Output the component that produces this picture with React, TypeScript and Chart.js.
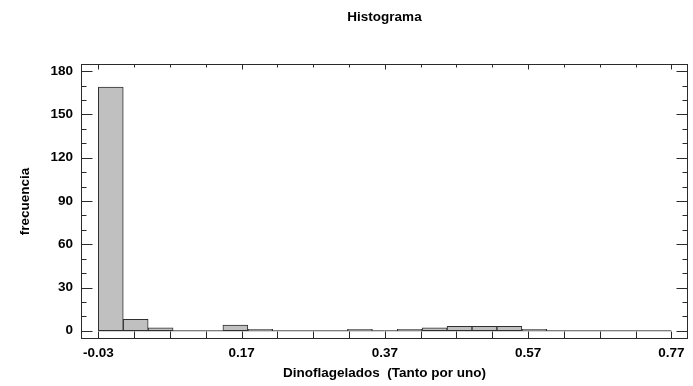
import React, { useEffect, useRef } from "react";
import { Chart, registerables } from "chart.js";
Chart.register(...registerables);

const chartTitle = "Histograma";
const xAxisTitle = "Dinoflagelados  (Tanto por uno)";
const yAxisTitle = "frecuencia";
const binStart = -0.03;
const binEnd = 0.77;
const counts = [169, 8, 2, 0, 0, 4, 1, 0, 0, 0, 1, 0, 1, 2, 3, 3, 3, 1, 0, 0, 0, 0, 0];
const xTickValues = [-0.03, 0.17, 0.37, 0.57, 0.77];
const xTickLabels = ["-0.03", "0.17", "0.37", "0.57", "0.77"];
const yTickValues = [0, 30, 60, 90, 120, 150, 180];
const xMinorStep = 0.05;
const yMinorStep = 10;

const FONT = "'Liberation Sans', Arial, sans-serif";

export default function App() {
  const ref = useRef<HTMLCanvasElement | null>(null);
  useEffect(() => {
    if (!ref.current) return;
    const n = counts.length;
    const w = (binEnd - binStart) / n;
    const bars = counts.map((c, i) => ({ x: binStart + w * (i + 0.5), y: c }));
    const base = [
      { x: binStart, y: 0 },
      { x: binEnd, y: 0 },
    ];
    const framePlugin = {
      id: "frame",
      afterDraw(chart: any) {
        const { ctx, chartArea: a, scales } = chart;
        const xs = scales.x;
        const ys = scales.y;
        const L = Math.round(a.left) + 0.5;
        const R = Math.round(a.right) - 0.5;
        const T = Math.round(a.top) + 0.5;
        const B = Math.round(a.bottom) - 0.5;
        ctx.save();
        ctx.strokeStyle = "#2a2a2a";
        ctx.lineWidth = 1;
        ctx.strokeRect(L, T, R - L, B - T);
        ctx.beginPath();
        const yMax = yTickValues[yTickValues.length - 1];
        for (let v = 0; v <= yMax + 1e-9; v += yMinorStep) {
          const major = yTickValues.some((t) => Math.abs(t - v) < 1e-9);
          const py = Math.round(ys.getPixelForValue(v)) + 0.5;
          const len = major ? 11 : 5;
          ctx.moveTo(L, py);
          ctx.lineTo(L + len, py);
          ctx.moveTo(R, py);
          ctx.lineTo(R - len, py);
        }
        const xLast = xTickValues[xTickValues.length - 1];
        for (let k = 0; ; k++) {
          const v = xTickValues[0] + k * xMinorStep;
          if (v > xLast + 1e-9) break;
          const major = xTickValues.some((t) => Math.abs(t - v) < 1e-9);
          const px = Math.round(xs.getPixelForValue(v)) + 0.5;
          ctx.moveTo(px, B);
          ctx.lineTo(px, B - 7);
          ctx.moveTo(px, T);
          ctx.lineTo(px, T + (major ? 5 : 3));
        }
        ctx.stroke();
        ctx.restore();
      },
    };
    const chart = new Chart(ref.current, {
      type: "bar",
      data: {
        datasets: [
          {
            type: "line",
            data: base,
            borderColor: "#555555",
            borderWidth: 1,
            pointRadius: 0,
            order: 2,
          } as any,
          {
            type: "bar",
            data: bars,
            backgroundColor: "#c0c0c0",
            borderColor: "#303030",
            borderWidth: 1,
            borderSkipped: false,
            barPercentage: 1,
            categoryPercentage: 1,
            grouped: false,
            order: 1,
          } as any,
        ],
      },
      options: {
        responsive: false,
        animation: false,
        layout: { padding: { left: 0, right: 5, top: 0, bottom: 0 } },
        plugins: {
          legend: { display: false },
          tooltip: { enabled: false },
          title: {
            display: true,
            fullSize: false,
            text: chartTitle,
            color: "#000",
            font: { family: FONT, size: 13.5, weight: "bold" },
            padding: { top: 9, bottom: 39 },
          },
        },
        scales: {
          x: {
            type: "linear",
            offset: false,
            bounds: "ticks",
            min: -0.0542,
            max: 0.7933,
            grid: { display: false, drawTicks: false, offset: false },
            border: { display: false },
            afterBuildTicks: (s: any) => {
              s.ticks = xTickValues.map((v) => ({ value: v }));
            },
            afterFit: (s: any) => {
              s.height = 47;
            },
            ticks: {
              color: "#000",
              padding: 6,
              maxRotation: 0,
              autoSkip: false,
              font: { family: FONT, size: 13.5, weight: "bold" },
              callback: (_v: any, i: number) => xTickLabels[i],
            },
            title: {
              display: true,
              text: xAxisTitle,
              color: "#000",
              font: { family: FONT, size: 13.5, weight: "bold" },
              padding: { top: 0, bottom: 5 },
            },
          },
          y: {
            type: "linear",
            min: -5.7,
            max: 184.8,
            grid: { display: false, drawTicks: false },
            border: { display: false },
            afterBuildTicks: (s: any) => {
              s.ticks = yTickValues.map((v) => ({ value: v }));
            },
            afterFit: (s: any) => {
              s.width = 81;
            },
            ticks: {
              color: "#000",
              padding: 8,
              autoSkip: false,
              font: { family: FONT, size: 13.5, weight: "bold" },
              callback: (v: any) => String(v),
            },
            title: {
              display: true,
              text: yAxisTitle,
              color: "#000",
              font: { family: FONT, size: 13.5, weight: "bold" },
              padding: { top: 17, bottom: 0 },
            },
          },
        },
      },
      plugins: [framePlugin],
    } as any);
    return () => chart.destroy();
  }, []);
  return (
    <div style={{ position: "absolute", left: 0, top: 0, width: 693, height: 386, background: "#fff" }}>
      <canvas ref={ref} width={693} height={386} />
    </div>
  );
}
